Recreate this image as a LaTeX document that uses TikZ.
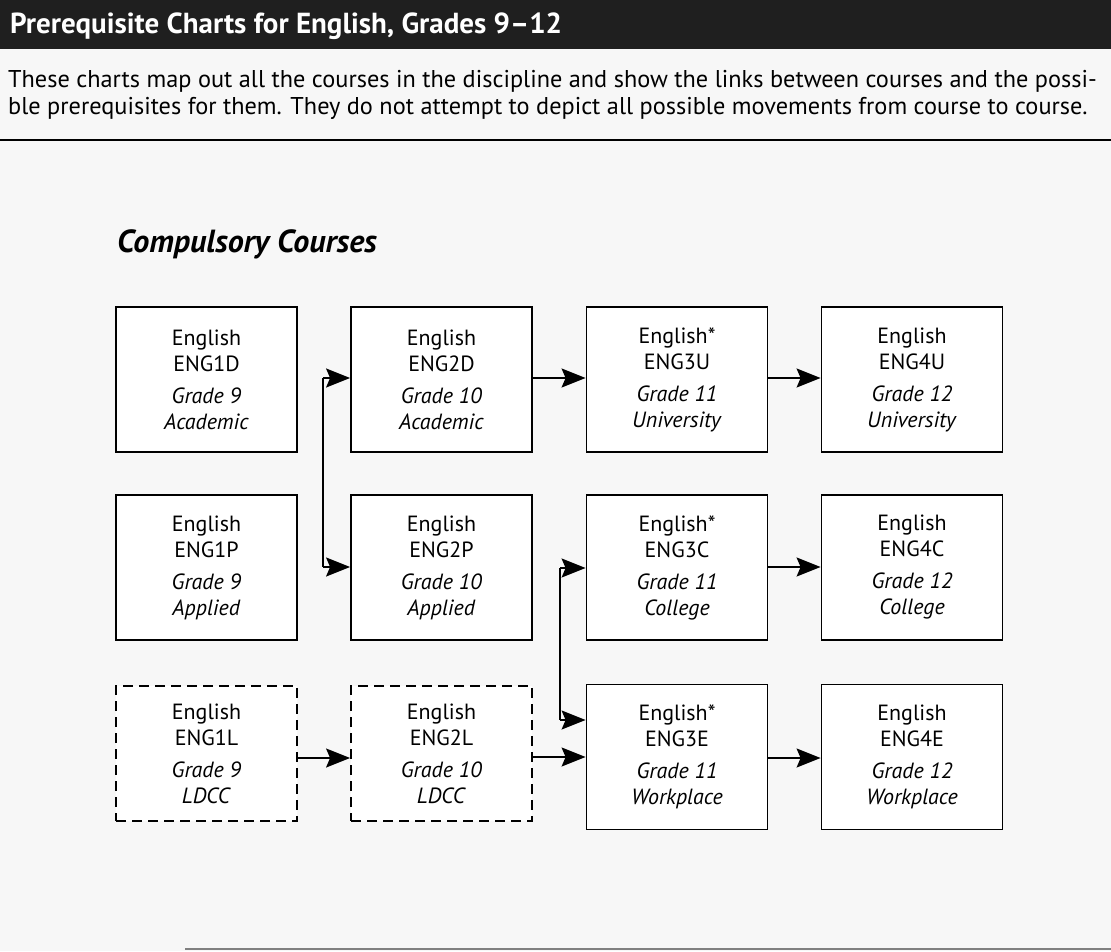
\documentclass[tikz,border=0pt]{standalone}
\usepackage{fontspec}
\setmainfont{PT Sans}
\usetikzlibrary{arrows.meta,calc}
\begin{document}
\begin{tikzpicture}[x=1pt,y=-1pt,
  course/.style={draw,line width=1.8pt,fill=white,minimum width=181pt,minimum height=145pt,inner sep=0pt,align=center,font=\fontsize{22}{26}\selectfont},
  ldcc/.style={course,dash pattern=on 10pt off 6pt,minimum height=135pt},
  link/.style={line width=1.5pt},
  tolink/.style={link,-{Stealth[length=24pt,width=19pt,inset=4pt]}},
  heading/.style={anchor=base west,inner sep=0pt}
]
\useasboundingbox (0,0) rectangle (1111,951);
% background
\fill[gray!6] (0,49) rectangle (1111,951);
\fill[black!88] (0,0) rectangle (1111,49);
\node[heading,text=white,font=\fontsize{29}{32}\selectfont\bfseries] (title) at (10,33) {Prerequisite Charts for English, Grades 9--12};
\node[heading,font=\fontsize{24.3}{27}\selectfont] (intro1) at (8,87) {These charts map out all the courses in the discipline and show the links between courses and the possi-};
\node[heading,font=\fontsize{24.3}{27}\selectfont] (intro2) at (8,114) {ble prerequisites for them. They do not attempt to depict all possible movements from course to course.};
\draw[line width=2pt] (0,140) -- (1111,140);
\draw[gray,line width=1.5pt] (185,949) -- (1111,949);
\node[heading,font=\fontsize{32}{36}\selectfont\bfseries\itshape] (comp) at (117,252) {Compulsory Courses};
% boxes
\node[course] (e1d) at (206.5,379.5) {English\\ENG1D\\[6pt]\textit{Grade 9}\\\textit{Academic}};
\node[course] (e2d) at (441.5,379.5) {English\\ENG2D\\[6pt]\textit{Grade 10}\\\textit{Academic}};
\node[course] (e3u) at (677,379.5) {English*\\ENG3U\\[6pt]\textit{Grade 11}\\\textit{University}};
\node[course] (e4u) at (912,379.5) {English\\ENG4U\\[6pt]\textit{Grade 12}\\\textit{University}};
\node[course] (e1p) at (206.5,567.5) {English\\ENG1P\\[6pt]\textit{Grade 9}\\\textit{Applied}};
\node[course] (e2p) at (441.5,567.5) {English\\ENG2P\\[6pt]\textit{Grade 10}\\\textit{Applied}};
\node[course] (e3c) at (677,567.5) {English*\\ENG3C\\[6pt]\textit{Grade 11}\\\textit{College}};
\node[course] (e4c) at (912,567.5) {English\\ENG4C\\[6pt]\textit{Grade 12}\\\textit{College}};
\node[ldcc] (e1l) at (206.5,753.5) {English\\ENG1L\\[6pt]\textit{Grade 9}\\\textit{LDCC}};
\node[ldcc] (e2l) at (441.5,753.5) {English\\ENG2L\\[6pt]\textit{Grade 10}\\\textit{LDCC}};
\node[course] (e3e) at (677,757) {English*\\ENG3E\\[6pt]\textit{Grade 11}\\\textit{Workplace}};
\node[course] (e4e) at (912,757) {English\\ENG4E\\[6pt]\textit{Grade 12}\\\textit{Workplace}};
% junction coordinates
\coordinate (j1a) at (323,378);
\coordinate (j1b) at (323,567);
\coordinate (j2a) at (560,568);
\coordinate (j2b) at (560,720);
% connectors, grade 9 to 10
\draw[link] ($(e1d.east)+(0,36.5)$) -- ($(e1d.east)+(0,36.5)$ -| j1a);
\draw[link] ($(e1p.east)+(0,-36.5)$) -- ($(e1p.east)+(0,-36.5)$ -| j1a);
\draw[link] (j1a) -- (j1b);
\draw[tolink] (j1a) -- (j1a -| e2d.west);
\draw[tolink] (j1b) -- (j1b -| e2p.west);
\draw[tolink] (e1l.east |- 0,758) -- (e2l.west |- 0,758);
% grade 10 to 11
\draw[tolink] (e2d.east |- 0,378) -- (e3u.west |- 0,378);
\draw[link] ($(e2p.east)+(0,35.5)$) -- ($(e2p.east)+(0,35.5)$ -| j2a);
\draw[link] (j2a) -- (j2b);
\draw[tolink] (j2a) -- (j2a -| e3c.west);
\draw[tolink] (j2b) -- (j2b -| e3e.west);
\draw[tolink] (e2l.east |- 0,757) -- (e3e.west |- 0,757);
% grade 11 to 12
\draw[tolink] (e3u.east |- 0,378) -- (e4u.west |- 0,378);
\draw[tolink] (e3c.east |- 0,567) -- (e4c.west |- 0,567);
\draw[tolink] (e3e.east |- 0,758) -- (e4e.west |- 0,758);
\end{tikzpicture}
\end{document}
